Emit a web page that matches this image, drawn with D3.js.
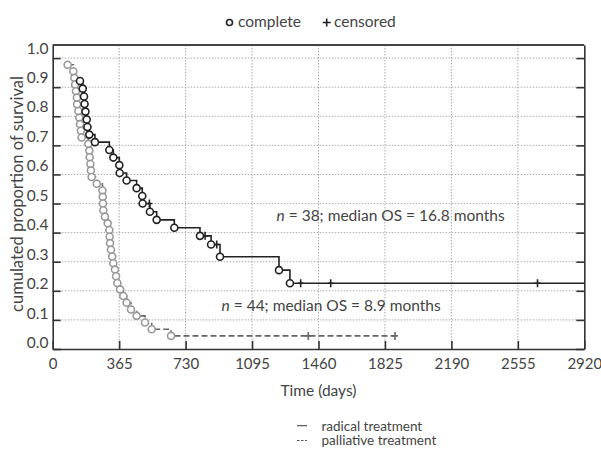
<!DOCTYPE html>
<html>
<head>
<meta charset="utf-8">
<script src="https://cdn.jsdelivr.net/npm/d3@7"></script>
<style>
  body { margin: 0; background: #fff; }
  svg text { font-family: Lato, "Open Sans", sans-serif; fill: #444; }
</style>
</head>
<body>
<div id="chart"></div>
<script>
// Data
const xTicks = [0, 365, 730, 1095, 1460, 1825, 2190, 2555, 2920];
const yTicks = [0, 0.1, 0.2, 0.3, 0.4, 0.5, 0.6, 0.7, 0.8, 0.9, 1.0];

// radical treatment (n = 38); status 1 = complete, 0 = censored, 2 = end of line
const radicalTime = [150, 165, 172, 175, 180, 187, 191, 201, 232, 311, 333, 366, 368, 406, 461, 492, 494, 531, 534, 571, 668, 809, 837, 870, 901, 919, 1243, 1303, 1362, 1527, 2663, 2920];
const radicalSurv = [0.921, 0.895, 0.868, 0.842, 0.816, 0.789, 0.763, 0.737, 0.711, 0.684, 0.658, 0.632, 0.605, 0.579, 0.553, 0.526, 0.5, 0.5, 0.472, 0.444, 0.417, 0.389, 0.389, 0.359, 0.359, 0.317, 0.271, 0.226, 0.226, 0.226, 0.226, 0.226];
const radicalStatus = [1, 1, 1, 1, 1, 1, 1, 1, 1, 1, 1, 1, 1, 1, 1, 1, 1, 0, 1, 1, 1, 1, 0, 1, 0, 1, 1, 1, 0, 0, 0, 2];

// palliative treatment (n = 44)
const palliativeTime = [82, 113, 119, 123, 128, 133, 134, 141, 146, 150, 155, 159, 196, 201, 203, 207, 210, 214, 242, 273, 275, 276, 278, 287, 302, 311, 313, 315, 320, 327, 333, 342, 348, 355, 370, 388, 406, 430, 461, 507, 544, 650, 1404, 1880];
const palliativeSurv = [0.977, 0.955, 0.932, 0.909, 0.886, 0.864, 0.841, 0.818, 0.795, 0.773, 0.75, 0.727, 0.705, 0.682, 0.659, 0.636, 0.614, 0.591, 0.568, 0.545, 0.523, 0.5, 0.477, 0.455, 0.432, 0.409, 0.386, 0.364, 0.341, 0.318, 0.295, 0.273, 0.25, 0.227, 0.205, 0.182, 0.159, 0.136, 0.114, 0.091, 0.068, 0.045, 0.045, 0.045];
const palliativeStatus = [1, 1, 1, 1, 1, 1, 1, 1, 1, 1, 1, 1, 1, 1, 1, 1, 1, 1, 1, 1, 1, 1, 1, 1, 1, 1, 1, 1, 1, 1, 1, 1, 1, 1, 1, 1, 1, 1, 1, 1, 1, 1, 0, 0];

const radical = radicalTime.map((t, i) => ({t, s: radicalSurv[i], status: radicalStatus[i]}));
const palliative = palliativeTime.map((t, i) => ({t, s: palliativeSurv[i], status: palliativeStatus[i]}));

const width = 601;
const height = 450;

const svg = d3.select('#chart')
  .append('svg')
    .attr('width', width)
    .attr('height', height);

// Scales
const x = d3.scaleLinear().domain([0, 2920]).range([52.7, 584.3]);
const y = d3.scaleLinear().domain([0, 1.045]).range([349, 45]);
// tick labels sit just above their ticks, on a slightly wider spacing
const yLabel = d3.scaleLinear().domain([0, 1]).range([348, 53.5]);

// Grid
const grid = svg.append('g')
    .attr('stroke', '#aaa')
    .attr('stroke-width', 1)
    .attr('stroke-dasharray', '1.5,1.5');
grid.selectAll('line.h')
  .data(yTicks.filter(d => d > 0))
  .join('line')
    .attr('class', 'h')
    .attr('x1', x(0)).attr('x2', x(2920))
    .attr('y1', d => y(d)).attr('y2', d => y(d));
grid.selectAll('line.v')
  .data(xTicks.slice(1, -1))
  .join('line')
    .attr('class', 'v')
    .attr('x1', d => x(d)).attr('x2', d => x(d))
    .attr('y1', y(1.045)).attr('y2', y(0));

// Axes (ticks point inwards)
const xAxis = svg.append('g')
    .attr('transform', `translate(0,${y(0)})`)
    .call(d3.axisBottom(x).tickValues(xTicks).tickFormat(d3.format('d')).tickSize(-8).tickPadding(9).tickSizeOuter(0));
const yAxis = svg.append('g')
    .attr('transform', `translate(${x(0)},0)`)
    .call(d3.axisLeft(y).tickValues(yTicks).tickSize(-8).tickFormat('').tickSizeOuter(0));
const rAxis = svg.append('g')
    .attr('transform', `translate(${x(2920)},0)`)
    .call(d3.axisRight(y).tickValues(yTicks).tickSize(-8).tickFormat('').tickSizeOuter(0));
[xAxis, yAxis, rAxis].forEach(g => {
  g.select('.domain').attr('stroke', '#333').attr('stroke-width', 1.6);
  g.selectAll('.tick line').attr('stroke', '#333').attr('stroke-width', 1.6);
});
xAxis.selectAll('.tick text')
    .style('font-family', 'Lato, sans-serif')
    .style('font-size', '15px')
    .attr('fill', '#444');
svg.append('line')
    .attr('x1', x(0)).attr('x2', x(2920))
    .attr('y1', y(1.045)).attr('y2', y(1.045))
    .attr('stroke', '#444')
    .attr('stroke-width', 1.8);

svg.append('g')
  .selectAll('text')
  .data(yTicks)
  .join('text')
    .attr('x', 48.5)
    .attr('y', d => yLabel(d))
    .attr('text-anchor', 'end')
    .style('font-size', '15.5px')
    .text(d => d.toFixed(1));

// Axis titles
svg.append('text')
    .attr('x', (x(0) + x(2920)) / 2)
    .attr('y', 396)
    .attr('text-anchor', 'middle')
    .style('font-size', '15.5px')
    .text('Time (days)');
svg.append('text')
    .attr('transform', 'translate(23,194) rotate(-90)')
    .attr('text-anchor', 'middle')
    .style('font-size', '16.5px')
    .text('cumulated proportion of survival');

// Curves
const stepLine = d3.line()
    .x(d => x(d.t))
    .y(d => y(d.s))
    .curve(d3.curveStepAfter);

const drawCurve = (data, lineColor, markColor, dash) => {
  const g = svg.append('g');
  g.append('path')
      .datum(data)
      .attr('d', stepLine)
      .attr('fill', 'none')
      .attr('stroke', lineColor)
      .attr('stroke-width', 1.6)
      .attr('stroke-dasharray', dash);
  g.selectAll('path.cens')
    .data(data.filter(d => d.status === 0))
    .join('path')
      .attr('class', 'cens')
      .attr('d', d => `M${x(d.t)},${y(d.s) - 4}V${y(d.s) + 4}M${x(d.t) - 3},${y(d.s)}H${x(d.t) + 3}`)
      .attr('stroke', lineColor)
      .attr('stroke-width', 1.6);
  g.selectAll('circle')
    .data(data.filter(d => d.status === 1))
    .join('circle')
      .attr('cx', d => x(d.t))
      .attr('cy', d => y(d.s))
      .attr('r', 3.5)
      .attr('fill', '#fff')
      .attr('stroke', markColor)
      .attr('stroke-width', 1.6);
};
drawCurve(palliative, '#666', '#999', '6,3');
drawCurve(radical, '#222', '#222', null);

// Annotations
const note1 = svg.append('text')
    .attr('x', 276.5)
    .attr('y', 221)
    .style('font-size', '15.5px');
note1.append('tspan').style('font-style', 'italic').text('n');
note1.append('tspan').text(' = 38; median OS = 16.8 months');
const note2 = svg.append('text')
    .attr('x', 221.5)
    .attr('y', 311)
    .style('font-size', '15.5px');
note2.append('tspan').style('font-style', 'italic').text('n');
note2.append('tspan').text(' = 44; median OS = 8.9 months');

// Top legend
svg.append('circle')
    .attr('cx', 229.5).attr('cy', 22.5).attr('r', 3)
    .attr('fill', '#fff').attr('stroke', '#222').attr('stroke-width', 1.6);
svg.append('text')
    .attr('x', 238).attr('y', 26.5)
    .style('font-size', '15.5px')
    .text('complete');
svg.append('path')
    .attr('d', 'M326.7,18.5V26.5M322.7,22.5H330.7')
    .attr('stroke', '#222').attr('stroke-width', 1.6);
svg.append('text')
    .attr('x', 334).attr('y', 26.5)
    .style('font-size', '15.5px')
    .text('censored');

// Bottom legend
svg.append('line')
    .attr('x1', 297).attr('x2', 307).attr('y1', 425.7).attr('y2', 425.7)
    .attr('stroke', '#555').attr('stroke-width', 1.2);
svg.append('line')
    .attr('x1', 297).attr('x2', 307).attr('y1', 440.5).attr('y2', 440.5)
    .attr('stroke', '#555').attr('stroke-width', 1.2)
    .attr('stroke-dasharray', '2.5,1.5');
svg.append('text')
    .attr('x', 321.5).attr('y', 430.5)
    .style('font-size', '13.5px')
    .text('radical treatment');
svg.append('text')
    .attr('x', 321.5).attr('y', 445)
    .style('font-size', '13.5px')
    .text('palliative treatment');
</script>
</body>
</html>
